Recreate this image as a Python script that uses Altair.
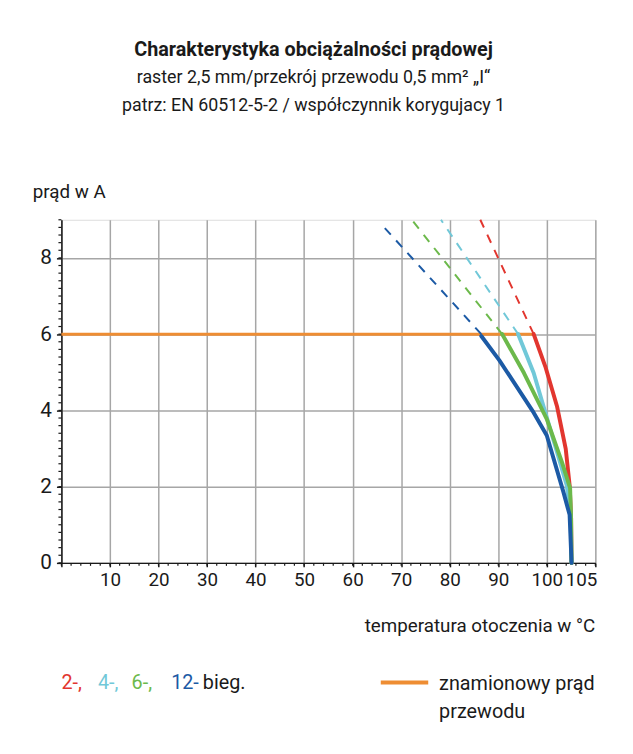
import altair as alt
import pandas as pd

# ---------------- data ----------------
title_lines = [
    "Charakterystyka obciążalności prądowej",
    "raster 2,5 mm/przekrój przewodu 0,5 mm² „I“",
    "patrz: EN 60512-5-2 / współczynnik korygujacy 1",
]
y_title = "prąd w A"
x_title = "temperatura otoczenia w °C"

x_grid = [0, 10, 20, 30, 40, 50, 60, 70, 80, 90, 100, 110]
x_extra_label = [105]
y_grid = [0, 1, 2, 3, 4, 5, 6, 7, 8, 9]
x_minor = [i * 2 for i in range(56)]
y_minor = [round(i * 0.2, 1) for i in range(46)]

series = ["2-", "4-", "6-", "12-"]
colors = ["#e2362f", "#71c8d8", "#6cb94b", "#1c5aa5"]

solid_T = {
    "2-": [97.3, 99.7, 102.1, 103.9, 104.7, 105.0, 105.1],
    "4-": [94.1, 97.3, 99.7, 102.1, 104.1, 104.9, 105.1],
    "6-": [90.8, 95.3, 100.0, 103.1, 104.8, 105.0, 105.1],
    "12-": [86.5, 90.2, 97.3, 100.0, 103.4, 104.7, 105.1],
}
solid_I = {
    "2-": [6.0, 5.15, 4.11, 2.99, 2.04, 1.18, 0.0],
    "4-": [6.0, 4.98, 3.94, 2.91, 2.04, 1.26, 0.0],
    "6-": [6.0, 4.98, 3.77, 2.65, 1.96, 1.18, 0.0],
    "12-": [5.95, 5.32, 3.94, 3.34, 1.87, 1.26, 0.0],
}
dash_T = {
    "2-": [97.3, 86.3],
    "4-": [94.1, 78.2],
    "6-": [90.8, 72.2],
    "12-": [86.5, 66.0],
}
dash_I = {
    "2-": [6.0, 9.0],
    "4-": [6.0, 9.0],
    "6-": [6.0, 9.0],
    "12-": [6.0, 8.87],
}

rated_T = [0, 97.3]
rated_I = [6.0, 6.0]

legend_items = ["2-,", "4-,", "6-,", "12-", "bieg."]
legend_colors = ["#e2362f", "#71c8d8", "#6cb94b", "#1c5aa5", "#1a1a1a"]
rated_label = ["znamionowy prąd", "przewodu"]
orange = "#ee8d33"

# ---------------- chart ----------------
FONT = "Roboto"
W, H = 540, 347
GRID = "#a6a6a6"
INK = "#1a1a1a"

xs = alt.Scale(domain=[0, 110], nice=False, zero=False)
ys = alt.Scale(domain=[0, 9], nice=False, zero=False)

empty = pd.DataFrame({"a": [0]})

base_axes = alt.Chart(pd.DataFrame({"T": [0], "I": [0]})).mark_point(opacity=0).encode(
    x=alt.X("T:Q", scale=xs, title=None,
            axis=alt.Axis(values=x_grid, grid=True, gridColor=GRID, gridWidth=1.5,
                          labelExpr="(datum.value > 0 && datum.value <= 100) ? datum.label : ''",
                          labelFont=FONT, labelFontSize=19, labelColor=INK,
                          labelPadding=4, tickSize=4, tickColor=INK, tickWidth=1.5,
                          domainColor=INK, domainWidth=1.5, labelFlush=False)),
    y=alt.Y("I:Q", scale=ys, title=None,
            axis=alt.Axis(values=y_grid, grid=True, gridColor=GRID, gridWidth=1.5,
                          labelExpr="(datum.value % 2 == 0 && datum.value < 9) ? datum.label : ''",
                          labelFont=FONT, labelFontSize=21, labelColor=INK,
                          labelPadding=5, tickSize=5, tickColor=INK, tickWidth=1.5,
                          domainColor=INK, domainWidth=1.5, labelFlush=False)),
)

layers = [base_axes]

# minor ticks
layers.append(
    alt.Chart(pd.DataFrame({"T": x_minor})).mark_rule(color=INK, strokeWidth=1.2).encode(
        x=alt.X("T:Q", scale=xs), y=alt.value(H), y2=alt.value(H + 3))
)
layers.append(
    alt.Chart(pd.DataFrame({"I": y_minor})).mark_rule(color=INK, strokeWidth=1.2).encode(
        y=alt.Y("I:Q", scale=ys), x=alt.value(0), x2=alt.value(-3))
)

# extra "105" tick label
layers.append(
    alt.Chart(pd.DataFrame({"T": x_extra_label, "t": [str(v) for v in x_extra_label]})).mark_text(
        font=FONT, fontSize=19, color=INK, baseline="top", align="center", dx=10.5
    ).encode(x=alt.X("T:Q", scale=xs), y=alt.value(H + 8), text="t:N")
)

# rated current line
layers.append(
    alt.Chart(pd.DataFrame({"T": rated_T, "I": rated_I})).mark_line(color=orange, strokeWidth=3).encode(
        x=alt.X("T:Q", scale=xs), y=alt.Y("I:Q", scale=ys))
)

# dashed extrapolations
for s, c in zip(series, colors):
    df = pd.DataFrame({"T": dash_T[s], "I": dash_I[s], "o": range(len(dash_T[s]))})
    layers.append(
        alt.Chart(df).mark_line(color=c, strokeWidth=2, strokeDash=[9, 8]).encode(
            x=alt.X("T:Q", scale=xs), y=alt.Y("I:Q", scale=ys), order="o:Q")
    )

# solid curves
for s, c in zip(series, colors):
    df = pd.DataFrame({"T": solid_T[s], "I": solid_I[s], "o": range(len(solid_T[s]))})
    layers.append(
        alt.Chart(df).mark_line(color=c, strokeWidth=4, strokeJoin="round", strokeCap="round").encode(
            x=alt.X("T:Q", scale=xs), y=alt.Y("I:Q", scale=ys), order="o:Q")
    )

# titles
title_y = [-166, -138, -110]
title_size = [20, 18, 18]
for i, line in enumerate(title_lines):
    layers.append(
        alt.Chart(pd.DataFrame({"t": [line]})).mark_text(
            font=FONT, fontSize=title_size[i], fontWeight="bold" if i == 0 else "normal",
            color=INK, align="center", baseline="alphabetic"
        ).encode(x=alt.value(255), y=alt.value(title_y[i]), text="t:N")
    )

layers.append(
    alt.Chart(pd.DataFrame({"t": [y_title]})).mark_text(
        font=FONT, fontSize=19, color=INK, align="left", baseline="alphabetic"
    ).encode(x=alt.value(-29), y=alt.value(-22), text="t:N")
)
layers.append(
    alt.Chart(pd.DataFrame({"t": [x_title]})).mark_text(
        font=FONT, fontSize=19, color=INK, align="right", baseline="alphabetic"
    ).encode(x=alt.value(540), y=alt.value(417), text="t:N")
)

# legend
legend_x = [0, 37, 71, 111, 143]
for t, c, lx in zip(legend_items, legend_colors, legend_x):
    layers.append(
        alt.Chart(pd.DataFrame({"t": [t]})).mark_text(
            font=FONT, fontSize=20, color=c, align="left", baseline="alphabetic"
        ).encode(x=alt.value(lx), y=alt.value(475), text="t:N")
    )

layers.append(
    alt.Chart(empty).mark_rule(color=orange, strokeWidth=4).encode(
        x=alt.value(323), x2=alt.value(371), y=alt.value(468))
)
for t, ly in zip(rated_label, [476, 504]):
    layers.append(
        alt.Chart(pd.DataFrame({"t": [t]})).mark_text(
            font=FONT, fontSize=20, color=INK, align="left", baseline="alphabetic"
        ).encode(x=alt.value(382), y=alt.value(ly), text="t:N")
    )

chart = alt.layer(*layers).properties(
    width=W, height=H,
    autosize=alt.AutoSizeParams(type="none"),
    padding={"left": 54, "top": 210, "right": 30, "bottom": 180},
).configure_view(stroke=GRID, strokeWidth=1.5).configure(background="white")

chart.save("out.html", embed_options={"renderer": "svg", "actions": False})
